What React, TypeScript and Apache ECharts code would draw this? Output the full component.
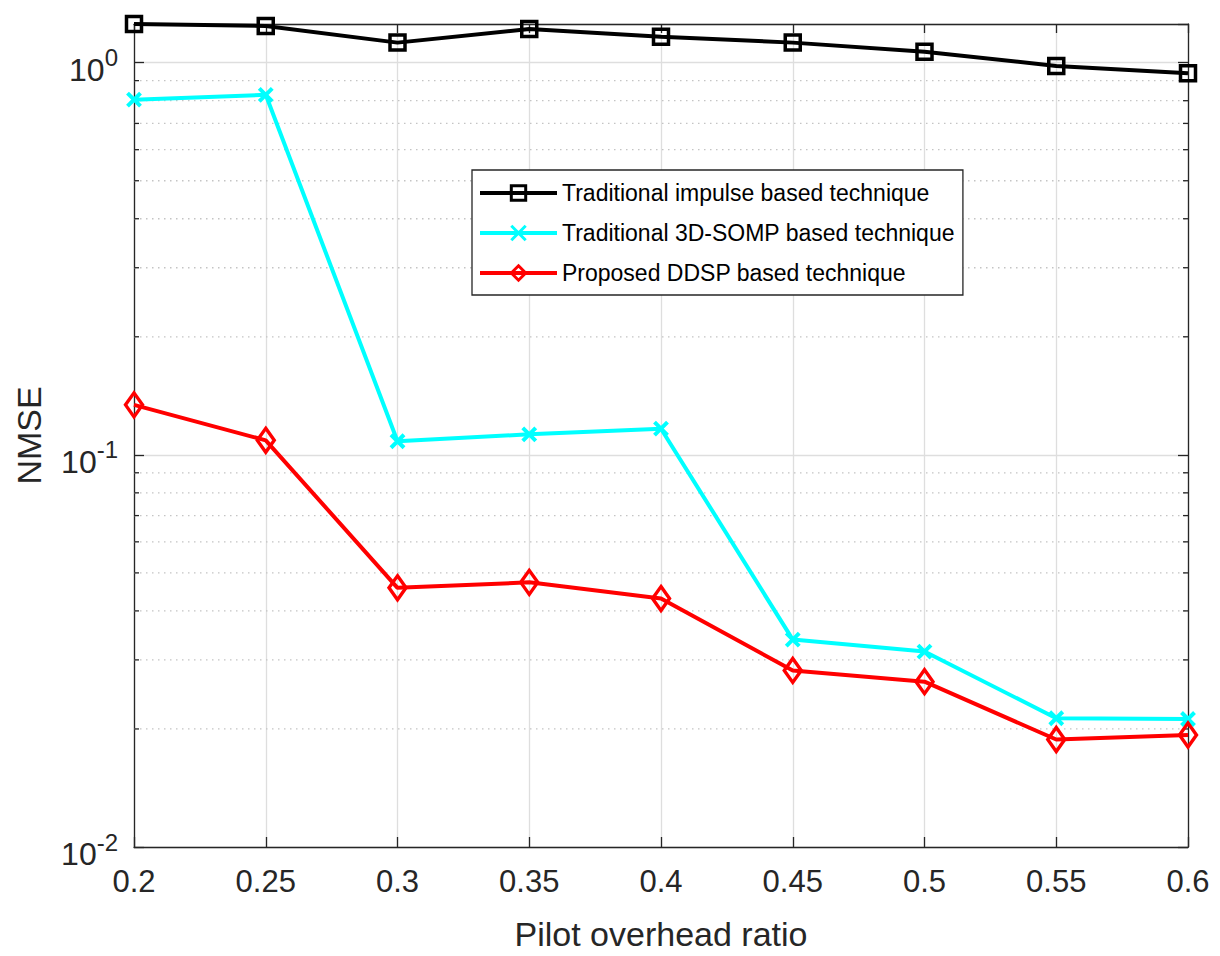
import React, { useEffect, useRef } from "react";
import * as echarts from "echarts";

const ratios = [0.2, 0.25, 0.3, 0.35, 0.4, 0.45, 0.5, 0.55, 0.6];
const impulseNMSE = [1.255, 1.241, 1.125, 1.219, 1.164, 1.125, 1.067, 0.981, 0.94];
const somp3dNMSE = [0.805, 0.828, 0.1083, 0.1128, 0.1166, 0.0338, 0.0315, 0.0213, 0.0212];
const ddspNMSE = [0.1341, 0.1089, 0.0458, 0.0473, 0.043, 0.0282, 0.0264, 0.0188, 0.0193];
const minorTickValues = [
  0.02, 0.03, 0.04, 0.05, 0.06, 0.07, 0.08, 0.09,
  0.2, 0.3, 0.4, 0.5, 0.6, 0.7, 0.8, 0.9,
];
const seriesNames = [
  "Traditional impulse based technique",
  "Traditional 3D-SOMP based technique",
  "Proposed DDSP based technique",
];

const FONT = "'Liberation Sans', Arial, Helvetica, sans-serif";
const AXIS = "#262626";
const X_MIN = 0.2;
const X_MAX = 0.6;
const Y_MIN = 0.01;
const Y_MAX = 1.255;

export default function App() {
  const ref = useRef<HTMLDivElement>(null);
  useEffect(() => {
    if (!ref.current) return;
    const chart = echarts.init(ref.current, undefined, { renderer: "svg" });
    const pair = (ys: number[]) => ratios.map((x, i) => [x, ys[i]]);
    const xLabel = (v: number) => String(+v.toFixed(2));
    const yLabel = (v: number) => {
      const e = Math.log10(v);
      const r = Math.round(e);
      if (Math.abs(e - r) > 1e-6) return "";
      return "{b|10}{s|" + r + "}";
    };
    chart.setOption({
      animation: false,
      backgroundColor: "#ffffff",
      textStyle: { fontFamily: FONT },
      grid: { left: 134, right: 32, top: 24, bottom: 99, containLabel: false },
      legend: {
        data: seriesNames,
        orient: "vertical",
        left: 472,
        top: 170,
        itemWidth: 77,
        itemHeight: 18,
        itemGap: 14,
        padding: [10, 8, 9, 6],
        borderColor: AXIS,
        borderWidth: 1.3,
        backgroundColor: "#ffffff",
        selectedMode: false,
        lineStyle: { width: 4 },
        itemStyle: { borderWidth: 3 },
        textStyle: { fontSize: 23, color: "#000", fontFamily: FONT, lineHeight: 26 },
      },
      xAxis: [
        {
          type: "value",
          min: X_MIN,
          max: X_MAX,
          interval: 0.05,
          position: "bottom",
          axisLine: { show: true, onZero: false, lineStyle: { color: AXIS, width: 1.3 } },
          axisTick: { show: true, inside: true, length: 10, lineStyle: { color: AXIS, width: 1.3 } },
          axisLabel: { fontSize: 31, color: AXIS, margin: 19, fontFamily: FONT, formatter: xLabel },
          splitLine: { show: true, lineStyle: { color: "#dedede", width: 1.3 } },
          name: "Pilot overhead ratio",
          nameLocation: "middle",
          nameGap: 70,
          nameTextStyle: { fontSize: 34, color: AXIS, fontFamily: FONT },
        },
        {
          type: "value",
          min: X_MIN,
          max: X_MAX,
          interval: 0.05,
          position: "top",
          axisLine: { show: true, onZero: false, lineStyle: { color: AXIS, width: 1.3 } },
          axisTick: { show: true, inside: true, length: 9, lineStyle: { color: AXIS, width: 1.3 } },
          axisLabel: { show: false },
          splitLine: { show: false },
        },
      ],
      yAxis: [
        {
          type: "log",
          logBase: 10,
          min: Y_MIN,
          max: Y_MAX,
          position: "left",
          axisLine: { show: true, onZero: false, lineStyle: { color: AXIS, width: 1.3 } },
          axisTick: { show: true, inside: true, length: 10, lineStyle: { color: AXIS, width: 1.3 } },
          axisLabel: {
            color: AXIS,
            margin: 16,
            formatter: yLabel,
            rich: {
              b: { fontSize: 32, color: AXIS, fontFamily: FONT, padding: [14, 0, 0, 0] },
              s: { fontSize: 24, color: AXIS, fontFamily: FONT, padding: [0, 0, 10, 0] },
            },
          },
          splitLine: { show: true, lineStyle: { color: "#dedede", width: 1.3 } },
          name: "NMSE",
          nameLocation: "middle",
          nameGap: 88,
          nameTextStyle: { fontSize: 34, color: AXIS, fontFamily: FONT },
        },
        {
          type: "log",
          logBase: 10,
          min: Y_MIN,
          max: Y_MAX,
          position: "right",
          axisLine: { show: true, onZero: false, lineStyle: { color: AXIS, width: 1.3 } },
          axisTick: { show: true, inside: true, length: 10, lineStyle: { color: AXIS, width: 1.3 } },
          axisLabel: { show: false },
          splitLine: { show: false },
        },
      ],
      series: [
        {
          type: "custom",
          name: "minor",
          xAxisIndex: 0,
          yAxisIndex: 0,
          silent: true,
          z: 1,
          data: minorTickValues.map((v) => [X_MIN, v]),
          renderItem: (params: any, api: any) => {
            const v = api.value(1);
            const l = api.coord([X_MIN, v]);
            const r = api.coord([X_MAX, v]);
            return {
              type: "group",
              children: [
                {
                  type: "line",
                  shape: { x1: l[0], y1: l[1], x2: r[0], y2: r[1] },
                  style: { stroke: "#c4c4c4", lineWidth: 1.3, lineDash: [1.5, 4.5] },
                },
                {
                  type: "line",
                  shape: { x1: l[0], y1: l[1], x2: l[0] + 5, y2: l[1] },
                  style: { stroke: AXIS, lineWidth: 1.3 },
                },
                {
                  type: "line",
                  shape: { x1: r[0] - 5, y1: r[1], x2: r[0], y2: r[1] },
                  style: { stroke: AXIS, lineWidth: 1.3 },
                },
              ],
            };
          },
        },
        {
          type: "line",
          name: seriesNames[0],
          data: pair(impulseNMSE),
          symbol: "rect",
          symbolSize: 15,
          z: 4,
          lineStyle: { color: "#000000", width: 4 },
          itemStyle: { color: "rgba(0,0,0,0)", borderColor: "#000000", borderWidth: 3.5 },
          emphasis: { disabled: true },
        },
        {
          type: "line",
          name: seriesNames[1],
          data: pair(somp3dNMSE),
          symbol: "path://M0,0L10,10M10,0L0,10",
          symbolSize: 13,
          z: 3,
          lineStyle: { color: "#00ffff", width: 4 },
          itemStyle: { color: "rgba(0,0,0,0)", borderColor: "#00ffff", borderWidth: 4 },
          emphasis: { disabled: true },
        },
        {
          type: "line",
          name: seriesNames[2],
          data: pair(ddspNMSE),
          symbol: "diamond",
          symbolSize: [17, 24],
          z: 3,
          lineStyle: { color: "#ff0000", width: 4 },
          itemStyle: { color: "rgba(0,0,0,0)", borderColor: "#ff0000", borderWidth: 3.5 },
          emphasis: { disabled: true },
        },
      ],
    });
    return () => chart.dispose();
  }, []);
  return (
    <div
      ref={ref}
      style={{ position: "absolute", left: 0, top: 0, width: 1220, height: 956, background: "#fff" }}
    />
  );
}
